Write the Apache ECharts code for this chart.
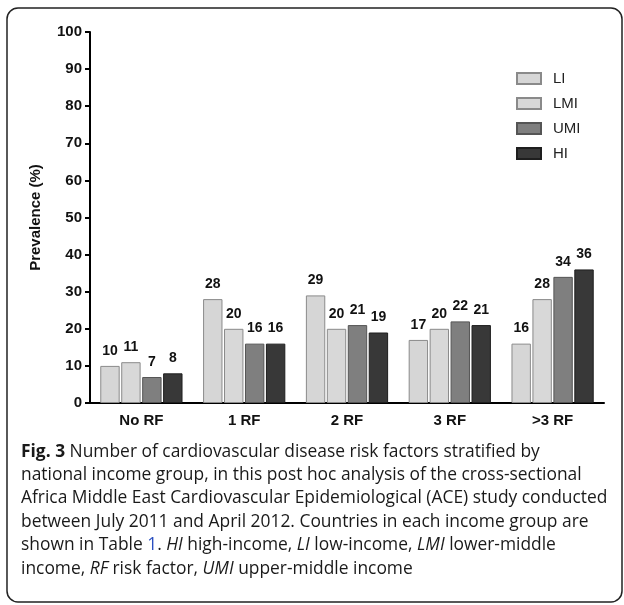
<!DOCTYPE html>
<html>
<head>
<meta charset="utf-8">
<script src="https://cdn.jsdelivr.net/npm/echarts@6/dist/echarts.min.js"></script>
<style>
html,body{margin:0;padding:0;background:#fff;}
#chart{width:624px;height:605px;}
</style>
</head>
<body>
<div id="chart"></div>
<script>
const categories = ['No RF', '1 RF', '2 RF', '3 RF', '>3 RF'];
const seriesNames = ['LI', 'LMI', 'UMI', 'HI'];
const LI = [10, 28, 29, 17, 16];
const LMI = [11, 20, 20, 20, 28];
const UMI = [7, 16, 21, 22, 34];
const HI = [8, 16, 19, 21, 36];
const yMin = 0, yMax = 100, yStep = 10;
const yAxisTitle = 'Prevalence (%)';
const captionLines = [
  '{b|Fig. 3} Number of cardiovascular disease risk factors stratified by',
  'national income group, in this post hoc analysis of the cross-sectional',
  'Africa Middle East Cardiovascular Epidemiological (ACE) study conducted',
  'between July 2011 and April 2012. Countries in each income group are',
  'shown in Table {l|1}. {i|HI} high-income, {i|LI} low-income, {i|LMI} lower-middle',
  'income, {i|RF} risk factor, {i|UMI} upper-middle income'
];

const fills = ['#d6d6d6', '#d8d8d8', '#7f7f7f', '#383838'];
const borders = ['#8a8a8a', '#8a8a8a', '#555555', '#1e1e1e'];
const values = [LI, LMI, UMI, HI];
const F = 'Liberation Sans, Arial, sans-serif';
const CF = 'Open Sans, sans-serif';

const chart = echarts.init(document.getElementById('chart'), null, {renderer: 'canvas'});
const capFS = 17.4, capLH = 23.4;
chart.setOption({
  animation: false,
  backgroundColor: '#fff',
  grid: {left: 90, right: 20, top: 32, bottom: 202, containLabel: false},
  legend: {
    orient: 'vertical', left: 516, top: 71, padding: 0,
    itemWidth: 24, itemHeight: 11, itemGap: 10, icon: 'rect',
    data: seriesNames,
    textStyle: {fontFamily: F, fontSize: 15, color: '#222', padding: [0, 0, 0, 7]}
  },
  xAxis: {
    type: 'category', data: categories,
    axisLine: {lineStyle: {color: '#000', width: 2}},
    axisTick: {show: false},
    axisLabel: {fontFamily: F, fontWeight: 'bold', fontSize: 15, color: '#111', margin: 10}
  },
  yAxis: {
    type: 'value', min: yMin, max: yMax, interval: yStep,
    name: yAxisTitle, nameLocation: 'middle', nameGap: 47,
    nameTextStyle: {fontFamily: F, fontWeight: 'bold', fontSize: 15, color: '#111'},
    axisLine: {show: true, lineStyle: {color: '#000', width: 2}},
    axisTick: {show: true, length: 5, lineStyle: {color: '#000', width: 2}},
    axisLabel: {fontFamily: F, fontWeight: 'bold', fontSize: 15, color: '#111', margin: 8},
    splitLine: {show: false}
  },
  series: seriesNames.map((n, i) => ({
    name: n, type: 'bar', data: values[i],
    barCategoryGap: '20%', barGap: '8%',
    itemStyle: {color: fills[i], borderColor: borders[i], borderWidth: 1},
    label: {show: true, position: 'top', distance: 8, fontFamily: F, fontWeight: 'bold', fontSize: 14, color: '#111'}
  })),
  graphic: [
    {
      type: 'rect', silent: true,
      shape: {x: 7, y: 8, width: 615, height: 594, r: 11},
      style: {fill: 'none', stroke: '#222', lineWidth: 1.5}
    },
    {
      type: 'text', left: 21, top: 440, silent: true,
      style: {
        text: captionLines.join('\n'),
        fontFamily: CF, fontSize: capFS, lineHeight: capLH, fill: '#1a1a1a',
        rich: {
          b: {fontFamily: CF, fontSize: capFS, lineHeight: capLH, fontWeight: 'bold', fill: '#1a1a1a'},
          i: {fontFamily: CF, fontSize: capFS, lineHeight: capLH, fontStyle: 'italic', fill: '#1a1a1a'},
          l: {fontFamily: CF, fontSize: capFS, lineHeight: capLH, fill: '#2a4fc0'}
        }
      }
    }
  ]
});
</script>
</body>
</html>
